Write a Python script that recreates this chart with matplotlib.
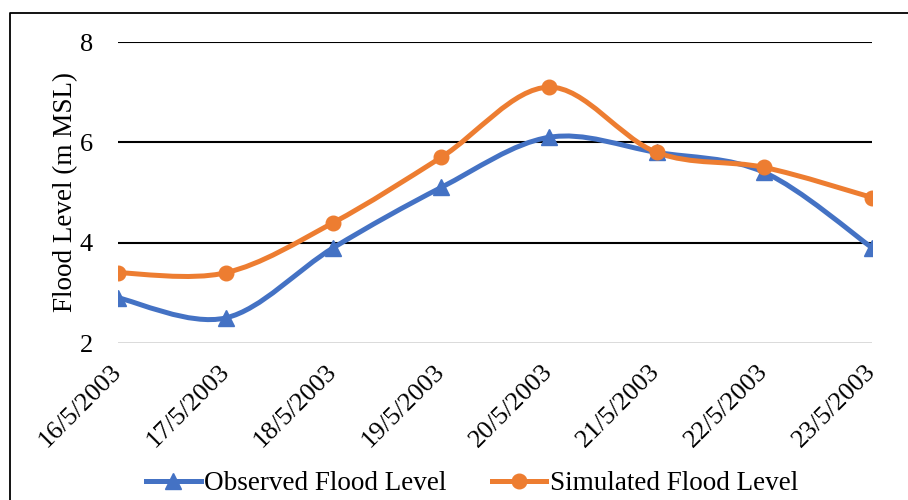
import numpy as np
import matplotlib.pyplot as plt
from matplotlib.path import Path
from matplotlib.patches import PathPatch
from matplotlib.lines import Line2D

dates = ['16/5/2003', '17/5/2003', '18/5/2003', '19/5/2003',
         '20/5/2003', '21/5/2003', '22/5/2003', '23/5/2003']
observed = [2.9, 2.5, 3.9, 5.1, 6.1, 5.8, 5.4, 3.9]
simulated = [3.4, 3.4, 4.4, 5.7, 7.1, 5.8, 5.5, 4.9]

BLUE = '#4472C4'
ORANGE = '#ED7D31'

plt.rcParams['font.family'] = ['Liberation Serif', 'DejaVu Serif']


def smooth_path(x, y):
    # spreadsheet-style smoothed line: cubic bezier through every point
    pts = np.column_stack([x, y]).astype(float)
    ext = np.vstack([pts[0], pts, pts[-1]])
    verts = [pts[0]]
    codes = [Path.MOVETO]
    for i in range(len(pts) - 1):
        p0, p1, p2, p3 = ext[i], ext[i + 1], ext[i + 2], ext[i + 3]
        c1 = p1 + (p2 - p0) / 6.0
        c2 = p2 - (p3 - p1) / 6.0
        verts += [c1, c2, p2]
        codes += [Path.CURVE4] * 3
    return Path(verts, codes)


fig = plt.figure(figsize=(9.08, 5.0), dpi=100)
ax = fig.add_axes([118 / 908, 1 - 343 / 500, (872 - 118) / 908, (343 - 42) / 500])

x = np.arange(len(dates))
for vals, col, mk, ms in [(observed, BLUE, '^', 11), (simulated, ORANGE, 'o', 10.5)]:
    ax.add_patch(PathPatch(smooth_path(x, vals), facecolor='none',
                           edgecolor=col, lw=3.6, capstyle='round', zorder=3))
    ax.plot(x, vals, linestyle='none', marker=mk, ms=ms, color=col, zorder=4)

ax.set_xlim(0, len(dates) - 1)
ax.set_ylim(2, 8)
ax.set_yticks([2, 4, 6, 8])
for v in [4, 6, 8]:
    ax.axhline(v, color='black', lw=1.5, zorder=1)
ax.axhline(2, color='#d0d0d0', lw=1.8, zorder=1)

for s in ax.spines.values():
    s.set_visible(False)
ax.tick_params(axis='both', length=0, labelsize=19)
ax.tick_params(axis='y', pad=18)
ax.set_xticks(x)
ax.set_xticklabels(dates, rotation=45, ha='right', va='center',
                   rotation_mode='anchor')
ax.tick_params(axis='x', pad=18)
ax.set_ylabel('Flood Level (m MSL)', fontsize=19.5, labelpad=1)

handles = [
    Line2D([], [], color=BLUE, lw=3.6, marker='^', ms=11),
    Line2D([], [], color=ORANGE, lw=3.6, marker='o', ms=10.5),
]
fig.legend(handles, ['Observed Flood Level', 'Simulated Flood Level'],
           loc='center', bbox_to_anchor=(0.52, 0.033), ncol=2, frameon=False,
           fontsize=19.5, handlelength=2.0, handletextpad=0.12, columnspacing=1.7)

# outer chart frame (top and left edges)
fig.add_artist(Line2D([10 / 908, 10 / 908, 1], [0, 1 - 13 / 500, 1 - 13 / 500],
                      color='black', lw=1.3, transform=fig.transFigure))

fig.savefig('out.png', dpi=100)
